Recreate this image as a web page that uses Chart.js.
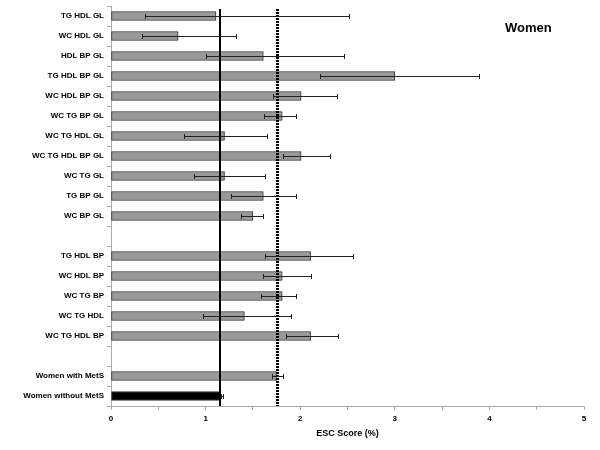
<!DOCTYPE html>
<html><head><meta charset="utf-8">
<script src="https://cdn.jsdelivr.net/npm/chart.js@4/dist/chart.umd.min.js"></script>
<style>html,body{margin:0;padding:0;background:#fff}</style>
</head><body>
<canvas id="c" width="600" height="450"></canvas>
<script>
const categories = ['TG HDL GL','WC HDL GL','HDL BP GL','TG HDL BP GL','WC HDL BP GL','WC TG BP GL','WC TG HDL GL','WC TG HDL BP GL','WC TG GL','TG BP GL','WC BP GL','','TG HDL BP','WC HDL BP','WC TG BP','WC TG HDL','WC TG HDL BP','','Women with MetS','Women without MetS'];
const scores  = [1.11,0.71,1.61,3.00,2.01,1.81,1.20,2.01,1.20,1.61,1.50,null,2.11,1.81,1.81,1.41,2.11,null,1.75,1.16];
const errLow  = [0.36,0.33,1.00,2.21,1.71,1.62,0.77,1.82,0.88,1.27,1.37,null,1.63,1.61,1.59,0.97,1.85,null,1.70,1.16];
const errHigh = [2.52,1.32,2.46,3.89,2.39,1.96,1.65,2.31,1.63,1.96,1.61,null,2.56,2.11,1.96,1.90,2.40,null,1.82,1.18];
const refLines = [1.15, 1.75];
const xTickValues = [0,1,2,3,4,5];
const chartTitle = 'Women';
const axisTitle = 'ESC Score (%)';

const barFill = categories.map(c => c === 'Women without MetS' ? '#000000' : '#999999');
const FONT = 'Liberation Sans, Arial, sans-serif';

const overlay = {
  id: 'overlay',
  afterDatasetsDraw(chart) {
    const ctx = chart.ctx, xs = chart.scales.x, area = chart.chartArea;
    const meta = chart.getDatasetMeta(0);
    ctx.save();
    ctx.strokeStyle = '#000';
    ctx.lineWidth = 2;
    ctx.beginPath();
    const x0 = Math.round(xs.getPixelForValue(refLines[0]));
    ctx.moveTo(x0, area.top + 3); ctx.lineTo(x0, area.bottom);
    ctx.stroke();
    ctx.lineWidth = 3;
    ctx.setLineDash([2, 1]);
    ctx.beginPath();
    const x1 = Math.round(xs.getPixelForValue(refLines[1])) + 0.5;
    ctx.moveTo(x1, area.top + 3); ctx.lineTo(x1, area.bottom);
    ctx.stroke();
    ctx.setLineDash([]);
    ctx.strokeStyle = '#222';
    ctx.lineWidth = 1;
    meta.data.forEach((bar, i) => {
      if (errLow[i] == null) return;
      const y = Math.round(bar.y) + 0.5;
      const a = Math.round(xs.getPixelForValue(errLow[i])) + 0.5;
      const b = Math.round(xs.getPixelForValue(errHigh[i])) + 0.5;
      ctx.beginPath();
      ctx.moveTo(a, y); ctx.lineTo(b, y);
      ctx.moveTo(a, y - 2.5); ctx.lineTo(a, y + 2.5);
      ctx.moveTo(b, y - 2.5); ctx.lineTo(b, y + 2.5);
      ctx.stroke();
    });
    ctx.fillStyle = '#000';
    ctx.font = 'bold 13px ' + FONT;
    ctx.textBaseline = 'middle';
    ctx.textAlign = 'left';
    ctx.fillText(chartTitle, 505, 28);
    ctx.restore();
  }
};

new Chart(document.getElementById('c'), {
  type: 'bar',
  data: {
    labels: categories,
    datasets: [{
      data: scores,
      backgroundColor: barFill,
      borderColor: '#333333',
      borderWidth: 1,
      borderSkipped: false,
      barThickness: 9
    }]
  },
  options: {
    indexAxis: 'y',
    responsive: false,
    animation: false,
    devicePixelRatio: 1,
    layout: { padding: { left: 0, right: 16, top: 6, bottom: 7 } },
    plugins: { legend: { display: false }, tooltip: { enabled: false } },
    scales: {
      y: {
        afterFit(s) { s.width = 111; s.paddingTop = 0; s.paddingBottom = 0; },
        grid: { drawOnChartArea: false, drawTicks: true, tickLength: 4, color: '#aaaaaa', offset: true },
        border: { display: true, color: '#aaaaaa' },
        ticks: { color: '#000', padding: 3, font: { family: FONT, size: 8, weight: 'bold' } }
      },
      x: {
        type: 'linear', min: 0, max: 5,
        afterFit(s) { s.height = 37; },
        afterBuildTicks(s) {
          const t = [];
          for (let v = 0; v <= 5.0001; v += 0.5) t.push({ value: Math.round(v * 10) / 10 });
          s.ticks = t;
        },
        grid: { drawOnChartArea: false, drawTicks: true, tickLength: 4, color: '#aaaaaa' },
        border: { display: true, color: '#aaaaaa' },
        ticks: {
          color: '#000', padding: 4, maxRotation: 0, autoSkip: false,
          font: { family: FONT, size: 8, weight: 'bold' },
          callback: v => xTickValues.includes(v) ? String(v) : ''
        },
        title: { display: true, text: axisTitle, color: '#000', font: { family: FONT, size: 9, weight: 'bold' }, padding: { top: 4, bottom: 4 } }
      }
    }
  },
  plugins: [overlay]
});
</script>
</body></html>
